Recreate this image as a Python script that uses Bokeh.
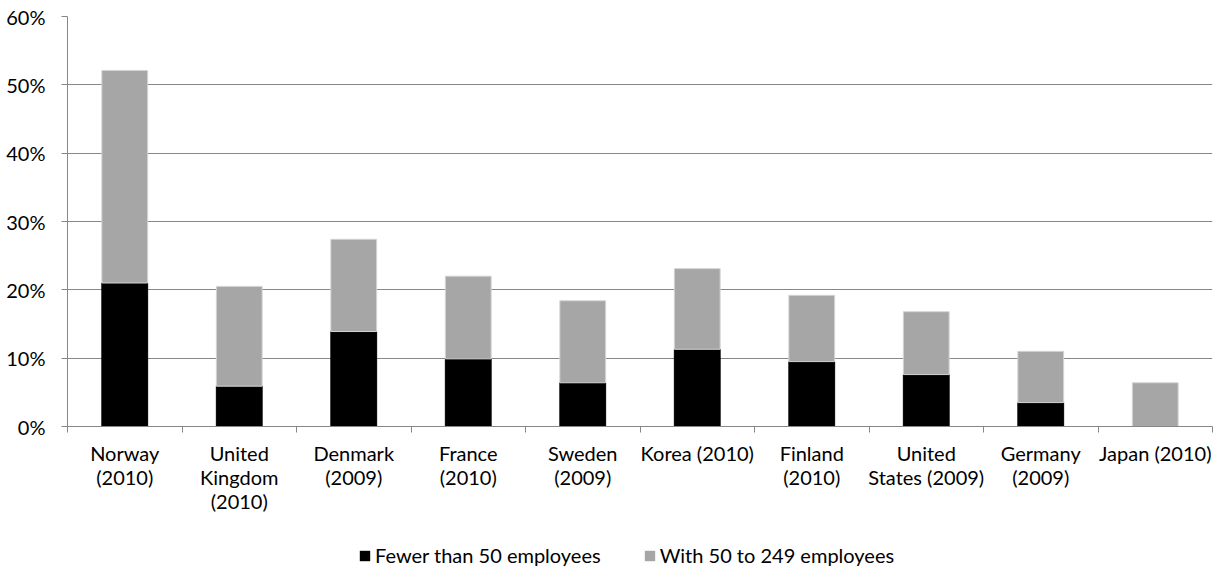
from bokeh.plotting import figure
from bokeh.layouts import column
from bokeh.models import (ColumnDataSource, Range1d, FixedTicker, PrintfTickFormatter)
from bokeh.embed import file_html
from bokeh.resources import INLINE

countries = ["Norway\n(2010)", "United\nKingdom\n(2010)", "Denmark\n(2009)", "France\n(2010)",
             "Sweden\n(2009)", "Korea (2010)", "Finland\n(2010)", "United\nStates (2009)",
             "Germany\n(2009)", "Japan (2010)"]
fewer_than_50 = [21.0, 5.9, 13.9, 9.9, 6.4, 11.3, 9.5, 7.6, 3.5, 0.0]
from_50_to_249 = [31.1, 14.6, 13.5, 12.1, 12.0, 11.8, 9.7, 9.2, 7.5, 6.4]
series_names = ["Fewer than 50 employees", "With 50 to 249 employees"]
y_ticks = [0, 10, 20, 30, 40, 50, 60]

FONT = "Lato"
FS = "20px"
GRID = "#878787"
FILLS = ["#000000", "#a6a6a6"]
LINES = ["#000000", "#d4d4d4"]

centers = [i + 0.5 for i in range(len(countries))]
bounds = list(range(len(countries) + 1))

src = ColumnDataSource(dict(x=centers, fewer=fewer_than_50, mid=from_50_to_249))

p = figure(width=1214, height=530, output_backend="svg", toolbar_location=None,
           x_range=Range1d(0, len(countries)), y_range=Range1d(0, 60),
           min_border_left=67, min_border_top=16, min_border_right=2, min_border_bottom=104)

p.vbar_stack(["fewer", "mid"], x="x", width=0.4, source=src,
             fill_color=FILLS, line_color=LINES, line_width=1)

p.outline_line_color = None
p.background_fill_color = "white"
p.border_fill_color = "white"

p.xgrid.visible = False
p.ygrid.grid_line_color = GRID
p.ygrid.grid_line_width = 1

yax = p.yaxis[0]
yax.ticker = FixedTicker(ticks=y_ticks)
yax.formatter = PrintfTickFormatter(format="%d%%")
yax.axis_line_color = GRID
yax.major_tick_line_color = GRID
yax.major_tick_out = 6
yax.major_tick_in = 0
yax.minor_tick_line_color = None
yax.major_label_standoff = 16
yax.major_label_text_font = FONT
yax.major_label_text_font_size = FS
yax.major_label_text_color = "#000000"

xax = p.xaxis[0]
xax.ticker = FixedTicker(ticks=centers, minor_ticks=bounds)
xax.major_label_overrides = {c: lab for c, lab in zip(centers, countries)}
xax.axis_line_color = GRID
xax.major_tick_out = 0
xax.major_tick_in = 0
xax.major_tick_line_color = None
xax.minor_tick_line_color = GRID
xax.minor_tick_out = 6
xax.minor_tick_in = 0
xax.major_label_standoff = 8
xax.major_label_text_font = FONT
xax.major_label_text_font_size = FS
xax.major_label_text_color = "#000000"
xax.major_label_text_line_height = 1.0

# legend strip below the chart (bars drawn outside its visible range, only the legend shows)
pl = figure(width=1214, height=39, output_backend="svg", toolbar_location=None,
            x_range=Range1d(0, len(countries)), y_range=Range1d(1000, 1001),
            x_axis_location=None, y_axis_location=None,
            min_border_left=0, min_border_right=0, min_border_top=0, min_border_bottom=0)
pl.vbar_stack(["fewer", "mid"], x="x", width=0.4, source=src,
              fill_color=FILLS, line_color=[None, None], legend_label=series_names)
pl.grid.visible = False
pl.outline_line_color = None
pl.background_fill_color = "white"
pl.border_fill_color = "white"

lg = pl.legend[0]
lg.orientation = "horizontal"
lg.location = (291, 2)
lg.padding = 0
lg.margin = 0
lg.spacing = 42
lg.border_line_color = None
lg.background_fill_alpha = 0
lg.glyph_width = 13
lg.glyph_height = 13
lg.label_standoff = 4
lg.label_text_font = FONT
lg.label_text_font_size = FS
lg.label_text_color = "#000000"
lg.label_height = 24

layout = column(p, pl, spacing=0)
open("out.html", "w").write(file_html(layout, INLINE))
